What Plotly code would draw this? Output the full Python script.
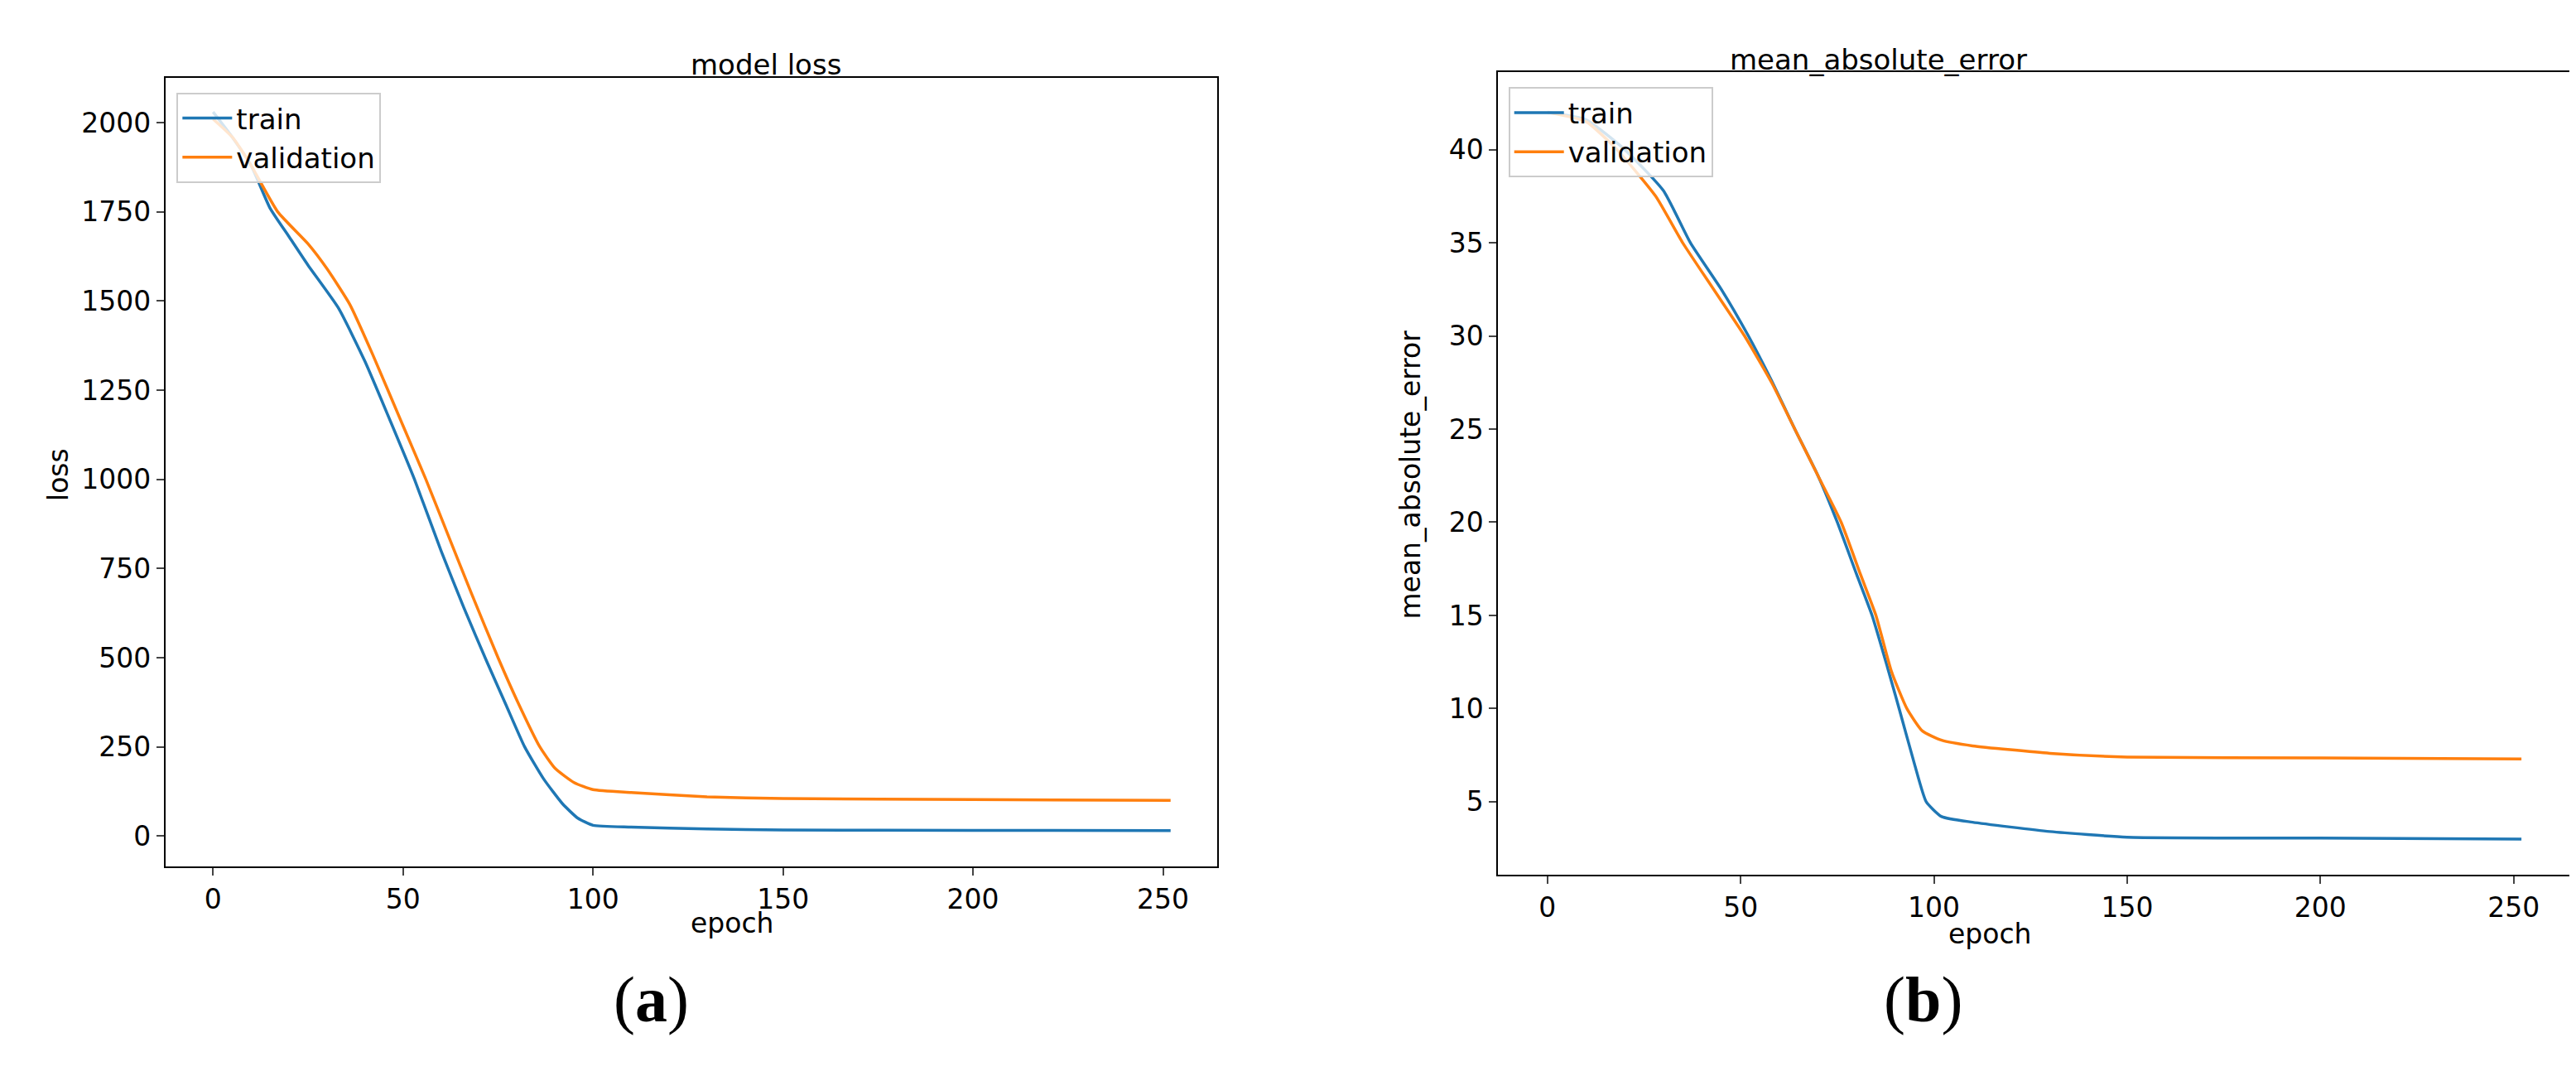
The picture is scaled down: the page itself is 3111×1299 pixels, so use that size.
import plotly.graph_objects as go

# training history (epoch, value)
loss_epoch = [0, 5, 10, 15, 20, 25, 33, 40, 46, 53, 60, 66, 72, 77, 82, 87, 92, 96, 100, 110, 130, 150, 200, 252]
loss_train = [2030, 1960, 1880, 1760, 1680, 1600, 1480, 1330, 1180, 1000, 800, 640, 490, 370, 250, 160, 90, 50, 30, 25, 20, 17, 16, 15]
val_epoch = [0, 5, 10, 17, 25, 30, 36, 42, 50, 56, 62, 68, 75, 80, 86, 90, 95, 100, 110, 130, 150, 200, 252]
loss_val = [2010, 1960, 1880, 1750, 1660, 1590, 1490, 1350, 1150, 1000, 840, 680, 500, 380, 250, 190, 150, 130, 122, 110, 105, 102, 100]

mae_epoch = [0, 10, 20, 30, 37, 45, 52, 58, 64, 70, 75, 80, 84, 88, 91, 95, 98, 102, 110, 130, 150, 200, 252]
mae_train = [42.0, 41.6, 40.0, 37.8, 35.0, 32.5, 30.0, 27.6, 25.0, 22.5, 20.0, 17.2, 15.0, 12.2, 10.0, 7.0, 5.0, 4.2, 3.9, 3.4, 3.1, 3.05, 3.0]
mae_val_epoch = [0, 10, 18, 28, 35, 43, 51, 58, 64, 70, 76, 81, 85, 89, 93, 97, 102, 110, 130, 150, 200, 252]
mae_val = [42.0, 41.5, 40.0, 37.5, 35.0, 32.5, 30.0, 27.5, 25.0, 22.5, 20.0, 17.2, 15.0, 12.0, 10.0, 8.8, 8.3, 8.0, 7.6, 7.4, 7.35, 7.3]

BLUE = "#1f77b4"
ORANGE = "#ff7f0e"
FONT = "DejaVu Sans"

fig = go.Figure()

def line(color):
    return dict(color=color, width=3.5, shape="spline", smoothing=0.5)

fig.add_trace(go.Scatter(x=loss_epoch, y=loss_train, name="train", mode="lines",
                         line=line(BLUE), legend="legend"))
fig.add_trace(go.Scatter(x=val_epoch, y=loss_val, name="validation", mode="lines",
                         line=line(ORANGE), legend="legend"))
fig.add_trace(go.Scatter(x=mae_epoch, y=mae_train, name="train", mode="lines", xaxis="x2", yaxis="y2",
                         line=line(BLUE), legend="legend2"))
fig.add_trace(go.Scatter(x=mae_val_epoch, y=mae_val, name="validation", mode="lines", xaxis="x2", yaxis="y2",
                         line=line(ORANGE), legend="legend2"))

ax = dict(showgrid=False, zeroline=False, showline=True, mirror=True, linecolor="black", linewidth=2,
          ticks="outside", ticklen=9, tickwidth=2, tickfont=dict(size=33, color="black", family=FONT))

legend_style = dict(bgcolor="rgba(255,255,255,0.8)", bordercolor="#cccccc", borderwidth=2,
                    font=dict(size=34, family=FONT, color="black"), xanchor="left", yanchor="top",
                    tracegroupgap=6, itemwidth=60)

fig.update_layout(
    width=3111, height=1299, margin=dict(l=0, r=0, t=0, b=0),
    plot_bgcolor="white", paper_bgcolor="white",
    xaxis=dict(ax, domain=[0.0617, 0.470], range=[-12.5, 264.3], tickvals=[0, 50, 100, 150, 200, 250]),
    yaxis=dict(ax, domain=[0.201, 0.934], range=[-85, 2126], tickvals=[0, 250, 500, 750, 1000, 1250, 1500, 1750, 2000]),
    xaxis2=dict(ax, domain=[0.579, 0.995], range=[-12.75, 264.5], tickvals=[0, 50, 100, 150, 200, 250], anchor="y2"),
    yaxis2=dict(ax, domain=[0.193, 0.939], range=[1.07, 44.15], tickvals=[5, 10, 15, 20, 25, 30, 35, 40], anchor="x2"),
    legend=dict(legend_style, x=0.066, y=0.92),
    legend2=dict(legend_style, x=0.583, y=0.925),
    showlegend=True,
)

notes = [
    (0.265, 0.963, "model loss", 34, FONT, 0),
    (0.785, 0.968, "mean_absolute_error", 34, FONT, 0),
    (0.265, 0.132, "epoch", 33, FONT, 0),
    (0.787, 0.122, "epoch", 33, FONT, 0),
    (0.013, 0.565, "loss", 33, FONT, -90),
    (0.545, 0.565, "mean_absolute_error", 33, FONT, -90),
    (0.235, 0.042, "(<b>a</b>)", 78, "Liberation Serif", 0),
    (0.760, 0.042, "(<b>b</b>)", 78, "Liberation Serif", 0),
]
for x, y, text, size, fam, ang in notes:
    fig.add_annotation(x=x, y=y, xref="paper", yref="paper", text=text, showarrow=False,
                       textangle=ang, font=dict(size=size, family=fam, color="black"))

fig.write_html("out.html")
